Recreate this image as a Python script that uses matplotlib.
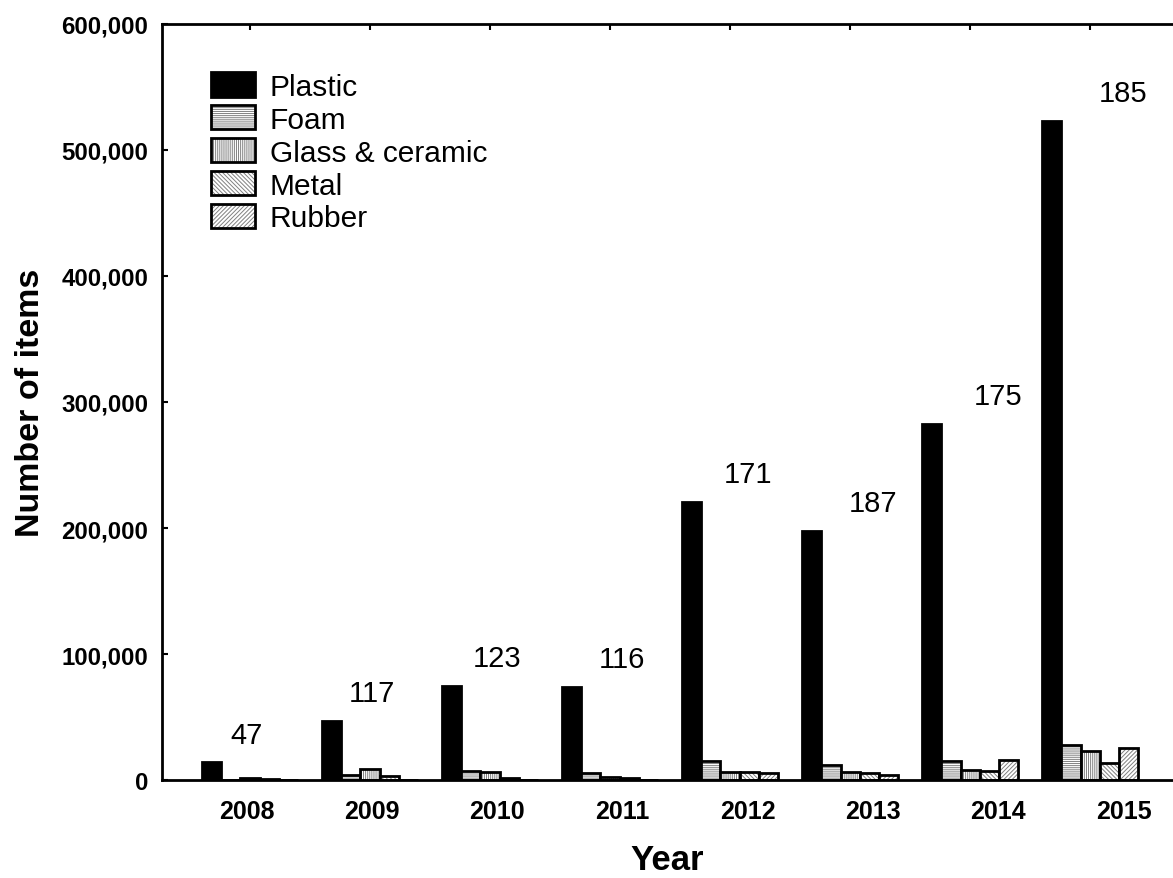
import matplotlib.pyplot as plt
import matplotlib.ticker as mticker
from matplotlib import font_manager
import numpy as np

plt.rcParams['font.family'] = ['Liberation Sans', 'DejaVu Sans']
plt.rcParams['hatch.linewidth'] = 0.7

# data
years = ['2008', '2009', '2010', '2011', '2012', '2013', '2014', '2015']
plastic = [14000, 47000, 74600, 73800, 220600, 197600, 282500, 523000]
foam = [300, 4000, 7100, 5500, 15000, 11900, 15100, 27800]
glass = [1200, 8700, 6300, 2600, 6500, 6300, 7900, 23000]
metal = [800, 3200, 1500, 1800, 6300, 5600, 7100, 13500]
rubber = [200, 300, 300, 300, 5600, 4000, 15900, 25400]
n_surveys = [47, 117, 123, 116, 171, 187, 175, 185]

series = [('Plastic', plastic, None),
          ('Foam', foam, '-' * 8),
          ('Glass & ceramic', glass, '|' * 8),
          ('Metal', metal, '\\' * 8),
          ('Rubber', rubber, '/' * 8)]

# year labels look like a narrow bold face; use it if it is there
font_names = {f.name for f in font_manager.fontManager.ttflist}
if 'Liberation Sans Narrow' in font_names:
    year_font, year_size = 'Liberation Sans Narrow', 20.5
else:
    year_font, year_size = 'Liberation Sans', 18

fig = plt.figure(figsize=(11.73, 8.79), dpi=100)
ax = fig.add_axes([162 / 1173, 1 - 781 / 879, 1011 / 1173, 756 / 879])

x = np.arange(len(years))
w = 0.16
# the year labels sit a bit off the group centres in the original
label_x = x * 1.044 - 0.03

handles = []
for k, (name, vals, hatch) in enumerate(series):
    pos = x + (k - 2) * w
    if hatch is None:
        b = ax.bar(pos, vals, w, color='black', edgecolor='black', linewidth=2)
        handles.append(b)
    else:
        h = ax.bar(pos, vals, w, color='white', edgecolor='#808080',
                   hatch=hatch, linewidth=0)
        o = ax.bar(pos, vals, w, fill=False, edgecolor='black', linewidth=2)
        handles.append((h, o))

for i, n in enumerate(n_surveys):
    ax.text(label_x[i], plastic[i] + 22000, str(n), ha='center',
            va='center', fontsize=21)

ax.legend(handles, [s[0] for s in series], loc='upper left',
          bbox_to_anchor=(0.0485, 0.936), frameon=False, fontsize=21.5,
          handlelength=1.47, handleheight=0.87, handletextpad=0.5,
          labelspacing=0.15, borderpad=0, borderaxespad=0)

ax.set_xlim(-0.733, 7.69)
ax.set_ylim(0, 600000)

ax.set_xticks(label_x, years)
ax.set_xticks(x, minor=True)
ax.tick_params(axis='x', which='major', length=0, pad=14)
ax.tick_params(axis='x', which='minor', bottom=False, top=True,
               direction='in', length=4, width=1.5)
plt.setp(ax.get_xticklabels(), fontweight='bold', family=year_font,
         fontsize=year_size)

ax.set_yticks(np.arange(0, 600001, 100000))
ax.yaxis.set_major_formatter(mticker.StrMethodFormatter('{x:,.0f}'))
ax.tick_params(axis='y', direction='in', length=4, width=1.5, pad=10,
               labelsize=17.3)
plt.setp(ax.get_yticklabels(), fontweight='bold')

for side in ['left', 'top', 'bottom']:
    ax.spines[side].set_linewidth(2)
ax.spines['right'].set_visible(False)

ax.set_xlabel('Year', fontsize=25, fontweight='bold', labelpad=14)
ax.set_ylabel('Number of items', fontsize=24.5, fontweight='bold', labelpad=11)

fig.savefig('out.png', dpi=100)
